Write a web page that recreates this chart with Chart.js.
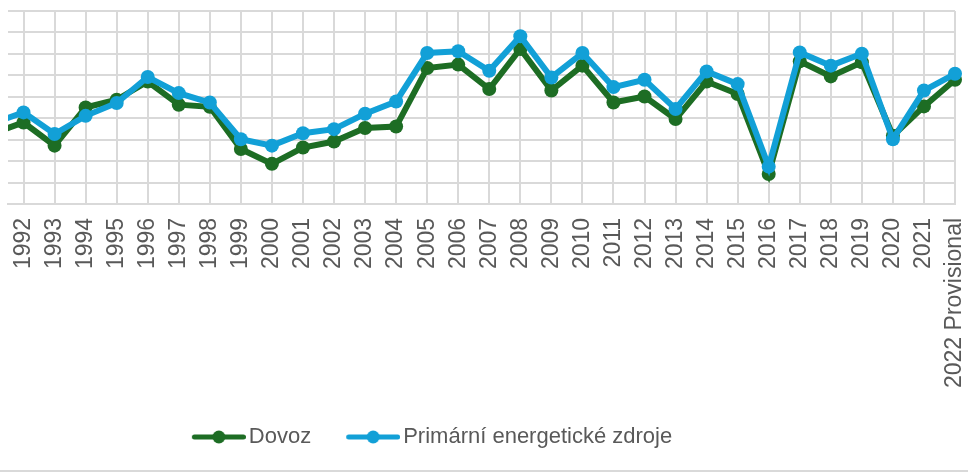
<!DOCTYPE html>
<html>
<head>
<meta charset="utf-8">
<script src="https://cdn.jsdelivr.net/npm/chart.js@4/dist/chart.umd.min.js"></script>
<style>
  html, body { margin: 0; padding: 0; background: #fff; }
  #wrap { width: 968px; height: 470px; border-bottom: 2px solid #d9d9d9; }
</style>
</head>
<body>
<div id="wrap"><canvas id="chart" width="968" height="470"></canvas></div>
<script>
const years = [1991, 1992, 1993, 1994, 1995, 1996, 1997, 1998, 1999, 2000, 2001, 2002, 2003, 2004, 2005, 2006,
    2007, 2008, 2009, 2010, 2011, 2012, 2013, 2014, 2015, 2016, 2017, 2018, 2019, 2020, 2021, 2022];
const tickYears = years.slice(1);
const tickLabels = ['1992', '1993', '1994', '1995', '1996', '1997', '1998', '1999', '2000', '2001', '2002',
    '2003', '2004', '2005', '2006', '2007', '2008', '2009', '2010', '2011', '2012', '2013', '2014', '2015',
    '2016', '2017', '2018', '2019', '2020', '2021', '2022 Provisional'];

const dovoz = [32.9, 38.0, 27.2, 45.0, 48.6, 57.1, 46.3, 45.3, 25.6, 18.7, 26.3, 29.1, 35.4, 36.1, 63.4, 65.0,
    53.6, 72.3, 52.9, 64.5, 47.3, 50.1, 39.6, 57.1, 51.3, 14.0, 66.5, 59.5, 66.1, 31.8, 45.5, 57.9];
const primarni = [37.6, 42.7, 32.6, 41.1, 47.1, 59.2, 51.7, 47.3, 30.2, 27.2, 33.0, 34.9, 42.1, 47.8, 70.4, 71.2,
    62.1, 78.2, 59.0, 70.4, 54.5, 57.9, 44.3, 61.8, 55.9, 17.4, 70.7, 64.5, 70.1, 30.2, 52.9, 60.7];

const GREEN = '#1d6d24';
const BLUE = '#12a0d7';
const GRID = '#d9d9d9';
const TEXT = '#595959';

// legend symbol: short line with a dot, like the Excel legend
// (drawn at the right end of a wider transparent image to get the spacing right)
function legendIcon(color) {
    const c = document.createElement('canvas');
    c.width = 73; c.height = 16;
    const g = c.getContext('2d');
    g.strokeStyle = color;
    g.lineWidth = 5;
    g.lineCap = 'round';
    g.beginPath(); g.moveTo(21.5, 8); g.lineTo(70.5, 8); g.stroke();
    g.fillStyle = color;
    g.beginPath(); g.arc(46, 8, 6.5, 0, Math.PI * 2); g.fill();
    return c;
}
const icons = { Dovoz: legendIcon(GREEN), 'Primární energetické zdroje': legendIcon(BLUE) };

const shiftLegend = {
    id: 'shiftLegend',
    afterLayout(chart) {
        const l = chart.legend;
        l.left -= 55; l.right -= 55;
    }
};

const ctx = document.getElementById('chart').getContext('2d');
new Chart(ctx, {
    type: 'line',
    data: {
        labels: years,
        datasets: [{
            label: 'Primární energetické zdroje',
            data: primarni,
            borderColor: BLUE,
            backgroundColor: BLUE,
            borderWidth: 6,
            pointRadius: 7,
            pointBorderWidth: 0,
            clip: { left: 0, right: 12, top: 12, bottom: 12 }
        }, {
            label: 'Dovoz',
            data: dovoz,
            borderColor: GREEN,
            backgroundColor: GREEN,
            borderWidth: 6,
            pointRadius: 7,
            pointBorderWidth: 0,
            clip: { left: 0, right: 12, top: 12, bottom: 12 }
        }]
    },
    options: {
        responsive: false,
        animation: false,
        layout: { padding: { left: 8, right: 13, top: 11, bottom: 12 } },
        scales: {
            x: {
                type: 'linear',
                min: 1991.5,
                max: 2022,
                afterBuildTicks: s => { s.ticks = tickYears.map(v => ({ value: v })); },
                afterFit: s => { s.paddingLeft = 0; s.paddingRight = 0; },
                grid: { color: GRID, lineWidth: 2, drawTicks: false },
                border: { color: GRID, width: 2 },
                ticks: {
                    autoSkip: false,
                    minRotation: 90,
                    maxRotation: 90,
                    padding: 14,
                    color: TEXT,
                    font: { family: 'Liberation Sans', size: 23 },
                    callback: v => tickLabels[tickYears.indexOf(v)]
                }
            },
            y: {
                min: 0,
                max: 90,
                grid: { color: GRID, lineWidth: 2, drawTicks: false },
                border: { display: false },
                ticks: { display: false, stepSize: 10 }
            }
        },
        plugins: {
            tooltip: { enabled: false },
            legend: {
                position: 'bottom',
                reverse: true,
                labels: {
                    usePointStyle: true,
                    pointStyleWidth: 57,
                    padding: 24,
                    color: TEXT,
                    font: { family: 'Liberation Sans', size: 22 },
                    generateLabels: chart => Chart.defaults.plugins.legend.labels.generateLabels(chart)
                        .map(item => Object.assign(item, { pointStyle: icons[item.text] }))
                }
            }
        }
    },
    plugins: [shiftLegend]
});
</script>
</body>
</html>
